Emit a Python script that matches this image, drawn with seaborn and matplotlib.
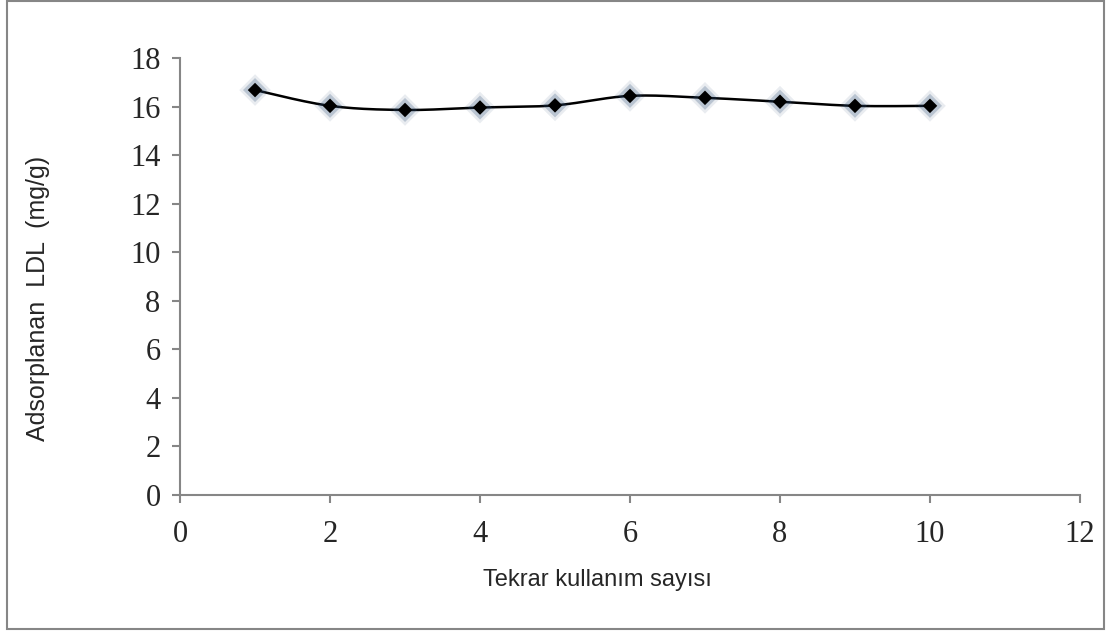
import numpy as np
import pandas as pd
import seaborn as sns
import matplotlib.pyplot as plt
from matplotlib.patches import Rectangle

# reuse count vs adsorbed LDL
reuse = [1, 2, 3, 4, 5, 6, 7, 8, 9, 10]
ldl = [16.68, 16.03, 15.86, 15.96, 16.05, 16.44, 16.36, 16.20, 16.03, 16.03]
x_ticks = [0, 2, 4, 6, 8, 10, 12]
y_ticks = [0, 2, 4, 6, 8, 10, 12, 14, 16, 18]


def smooth_line(xs, ys, n=30):
    # Catmull-Rom style smoothing, like the spreadsheet "smoothed line"
    xs = np.asarray(xs, float)
    ys = np.asarray(ys, float)
    px = np.concatenate([[xs[0]], xs, [xs[-1]]])
    py = np.concatenate([[ys[0]], ys, [ys[-1]]])
    out_x, out_y = [], []
    t = np.linspace(0, 1, n)
    for i in range(1, len(px) - 2):
        p0, p1, p2, p3 = [np.array([px[j], py[j]]) for j in (i - 1, i, i + 1, i + 2)]
        c1 = p1 + (p2 - p0) / 6
        c2 = p2 - (p3 - p1) / 6
        for tt in t:
            pt = ((1 - tt) ** 3) * p1 + 3 * ((1 - tt) ** 2) * tt * c1 + 3 * (1 - tt) * tt ** 2 * c2 + tt ** 3 * p2
            out_x.append(pt[0])
            out_y.append(pt[1])
    return pd.DataFrame({"x": out_x, "y": out_y})


sns.set_style("white")
plt.rcParams["font.family"] = ["Liberation Serif", "DejaVu Serif"]

fig = plt.figure(figsize=(11.08, 6.32), dpi=100)
ax = fig.add_axes([0.1625, 0.2168, 0.8122, 0.6914])

df = pd.DataFrame({"reuse": reuse, "ldl": ldl})
curve = smooth_line(reuse, ldl)

sns.lineplot(data=curve, x="x", y="y", ax=ax, color="black", linewidth=1.8, sort=False)
# soft glow behind the markers
sns.scatterplot(data=df, x="reuse", y="ldl", ax=ax, marker="D", s=260,
                color="#2c4d75", alpha=0.10, edgecolor="none", zorder=3)
sns.scatterplot(data=df, x="reuse", y="ldl", ax=ax, marker="D", s=150,
                color="#2c4d75", alpha=0.25, edgecolor="none", zorder=3)
sns.scatterplot(data=df, x="reuse", y="ldl", ax=ax, marker="D", s=55,
                color="black", edgecolor="none", zorder=4)

ax.set_xlim(0, 12)
ax.set_ylim(0, 18)
ax.set_xticks(x_ticks)
ax.set_yticks(y_ticks)
ax.tick_params(axis="both", direction="out", length=6, width=1.5, color="#868686",
               labelsize=22, left=True, bottom=True)
ax.tick_params(axis="x", pad=12)
ax.tick_params(axis="y", pad=8)
for s in ["top", "right"]:
    ax.spines[s].set_visible(False)
for s in ["left", "bottom"]:
    ax.spines[s].set_color("#868686")
    ax.spines[s].set_linewidth(1.5)

ax.set_xlabel("")
ax.set_ylabel("")
fig.text(0.539, 0.082, "Tekrar kullanım sayısı", ha="center", va="center",
         fontsize=17, family=["Liberation Sans", "DejaVu Sans"])
fig.text(0.034, 0.528, "Adsorplanan  LDL  (mg/g)", ha="center", va="center",
         rotation=90, fontsize=18, family=["Liberation Sans", "DejaVu Sans"])

fig.patches.append(Rectangle((0.006, 0.004), 0.99, 0.994, transform=fig.transFigure,
                             fill=False, edgecolor="#868686", linewidth=1.5))

fig.savefig("out.png", dpi=100)
